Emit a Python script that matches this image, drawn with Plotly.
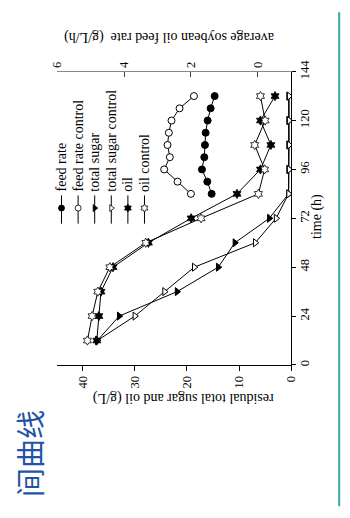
import plotly.graph_objects as go

# ---------------- data ----------------
time_sugar = [12, 24, 36, 48, 60, 72, 84, 96, 108, 120, 132]
total_sugar = [37.2, 33.0, 21.9, 14.0, 10.8, 4.2, 0.5, 0.5, 0.5, 0.5, 0.5]
total_sugar_control = [37.2, 30.0, 24.3, 18.6, 6.9, 2.9, 0.5, 0.4, 0.4, 0.4, 0.4]
oil = [37.3, 36.9, 36.5, 34.2, 27.4, 19.2, 10.4, 5.9, 3.9, 5.9, 3.1]
oil_control = [39.1, 38.2, 37.1, 34.8, 27.9, 17.3, 6.3, 5.1, 7.0, 5.0, 5.9]

time_feed = [84, 90, 96, 102, 108, 114, 120, 126, 132]
feed_rate = [1.38, 1.51, 1.67, 1.60, 1.58, 1.56, 1.50, 1.41, 1.29]
feed_rate_control = [2.00, 2.40, 2.80, 2.63, 2.70, 2.66, 2.58, 2.34, 1.91]

time_ticks = [0, 24, 48, 72, 96, 120, 144]
sugar_ticks = [0, 10, 20, 30, 40]
feed_ticks = [0, 2, 4, 6]

legend_labels = ["feed rate", "feed rate control", "total sugar",
                 "total sugar control", "oil", "oil control"]

# page body has an 8px default margin -> figure is offset by OFF px
OFF = 8
W, H = 342, 510
SERIF = "Liberation Serif"


def px(x):
    return (x - OFF) / W


def py(y):
    return 1 - (y - OFF) / H


fig = go.Figure()

line = dict(color="black", width=1)

# residual sugar / oil (x = concentration, y = time)
fig.add_trace(go.Scatter(x=total_sugar, y=time_sugar, mode="lines+markers",
                         line=line, xaxis="x", yaxis="y",
                         marker=dict(symbol="triangle-right", size=7, color="black",
                                     line=dict(color="black", width=1))))
fig.add_trace(go.Scatter(x=total_sugar_control, y=time_sugar, mode="lines+markers",
                         line=line, xaxis="x", yaxis="y",
                         marker=dict(symbol="triangle-right", size=7, color="white",
                                     line=dict(color="black", width=1))))
fig.add_trace(go.Scatter(x=oil, y=time_sugar, mode="lines+markers",
                         line=line, xaxis="x", yaxis="y",
                         marker=dict(symbol="hexagram", size=7, color="black",
                                     line=dict(color="black", width=0.8))))
fig.add_trace(go.Scatter(x=oil_control, y=time_sugar, mode="lines+markers",
                         line=line, xaxis="x", yaxis="y",
                         marker=dict(symbol="hexagram", size=7, color="white",
                                     line=dict(color="black", width=0.8))))
# feed rate (top axis)
fig.add_trace(go.Scatter(x=feed_rate, y=time_feed, mode="lines+markers",
                         line=line, xaxis="x2", yaxis="y",
                         marker=dict(symbol="circle", size=7, color="black",
                                     line=dict(color="black", width=1))))
fig.add_trace(go.Scatter(x=feed_rate_control, y=time_feed, mode="lines+markers",
                         line=line, xaxis="x2", yaxis="y",
                         marker=dict(symbol="circle", size=7, color="white",
                                     line=dict(color="black", width=1))))

# ---------------- custom rotated legend ----------------
leg_symbols = ["circle", "circle", "triangle-right", "triangle-right", "hexagram", "hexagram"]
leg_fill = ["black", "white", "black", "white", "black", "white"]
leg_x = [56.5, 73.8, 91.1, 108.4, 125.7, 143.0]
annotations = []
for lab, sym, fc, lx in zip(legend_labels, leg_symbols, leg_fill, leg_x):
    fig.add_trace(go.Scatter(x=[lx, lx], y=[188, 217], mode="lines", line=line,
                             xaxis="x3", yaxis="y3", hoverinfo="skip"))
    fig.add_trace(go.Scatter(x=[lx], y=[201], mode="markers", xaxis="x3", yaxis="y3",
                             marker=dict(symbol=sym, size=6, color=fc,
                                         line=dict(color="black", width=0.8)),
                             hoverinfo="skip"))
    annotations.append(dict(text=lab, x=px(lx), y=py(186), xref="paper", yref="paper",
                            xanchor="center", yanchor="bottom", textangle=-90,
                            showarrow=False, font=dict(family=SERIF, size=14, color="black")))

# axis titles
annotations.append(dict(text="time (h)", x=px(323), y=py(210), xref="paper", yref="paper",
                        xanchor="center", yanchor="middle", textangle=-90, showarrow=False,
                        font=dict(family=SERIF, size=14, color="black")))
annotations.append(dict(text="residual total sugar and oil (g/L)", x=px(183), y=py(396),
                        xref="paper", yref="paper", xanchor="center", yanchor="middle",
                        textangle=180, showarrow=False,
                        font=dict(family=SERIF, size=14, color="black")))
annotations.append(dict(text="average soybean oil feed rate  (g/L/h)", x=px(168), y=py(26),
                        xref="paper", yref="paper", xanchor="center", yanchor="middle",
                        textangle=180, showarrow=False,
                        font=dict(family=SERIF, size=14, color="black")))
# page fragment text
annotations.append(dict(text="间曲线", x=px(22), y=py(453), xref="paper", yref="paper",
                        xanchor="center", yanchor="middle", textangle=-90, showarrow=False,
                        font=dict(family="Noto Sans CJK SC", size=29, color="#1f55a8")))

shapes = [dict(type="line", xref="paper", yref="paper", x0=px(346), x1=px(346),
               y0=py(0), y1=py(507), layer="above", line=dict(color="#3aa8a8", width=2))]

tickfont = dict(family=SERIF, size=12.5, color="black")
x_dom = [px(52), px(296)]
y_dom = [py(362), py(61)]

fig.update_layout(
    width=W, height=H,
    margin=dict(l=0, r=0, t=0, b=0),
    paper_bgcolor="white", plot_bgcolor="rgba(0,0,0,0)",
    showlegend=False,
    annotations=annotations,
    shapes=shapes,
    xaxis=dict(domain=x_dom, range=[44.9, 0], tickvals=sugar_ticks, ticks="outside",
               ticklen=5, tickcolor="black", tickangle=-90, tickfont=tickfont,
               showline=True, linecolor="black", linewidth=1, showgrid=False,
               zeroline=False, anchor="y"),
    xaxis2=dict(domain=x_dom, range=[6, -1], tickvals=feed_ticks, ticks="inside",
                ticklen=5, tickcolor="#444", tickangle=-90, tickfont=tickfont,
                showline=True, linecolor="#888", linewidth=1.3, showgrid=False,
                zeroline=False, overlaying="x", side="top", anchor="y"),
    yaxis=dict(domain=y_dom, range=[0, 144], tickvals=time_ticks, ticks="outside",
               ticklen=4, tickcolor="black", tickangle=-90, tickfont=tickfont,
               ticklabelstandoff=-2,
               showline=True, linecolor="black", linewidth=1, showgrid=False,
               zeroline=False, side="right", anchor="x"),
    xaxis3=dict(domain=[0, 1], range=[OFF, OFF + W], visible=False, anchor="y3",
                fixedrange=True),
    yaxis3=dict(domain=[0, 1], range=[OFF + H, OFF], visible=False, anchor="x3",
                fixedrange=True),
)

fig.write_html("out.html")
